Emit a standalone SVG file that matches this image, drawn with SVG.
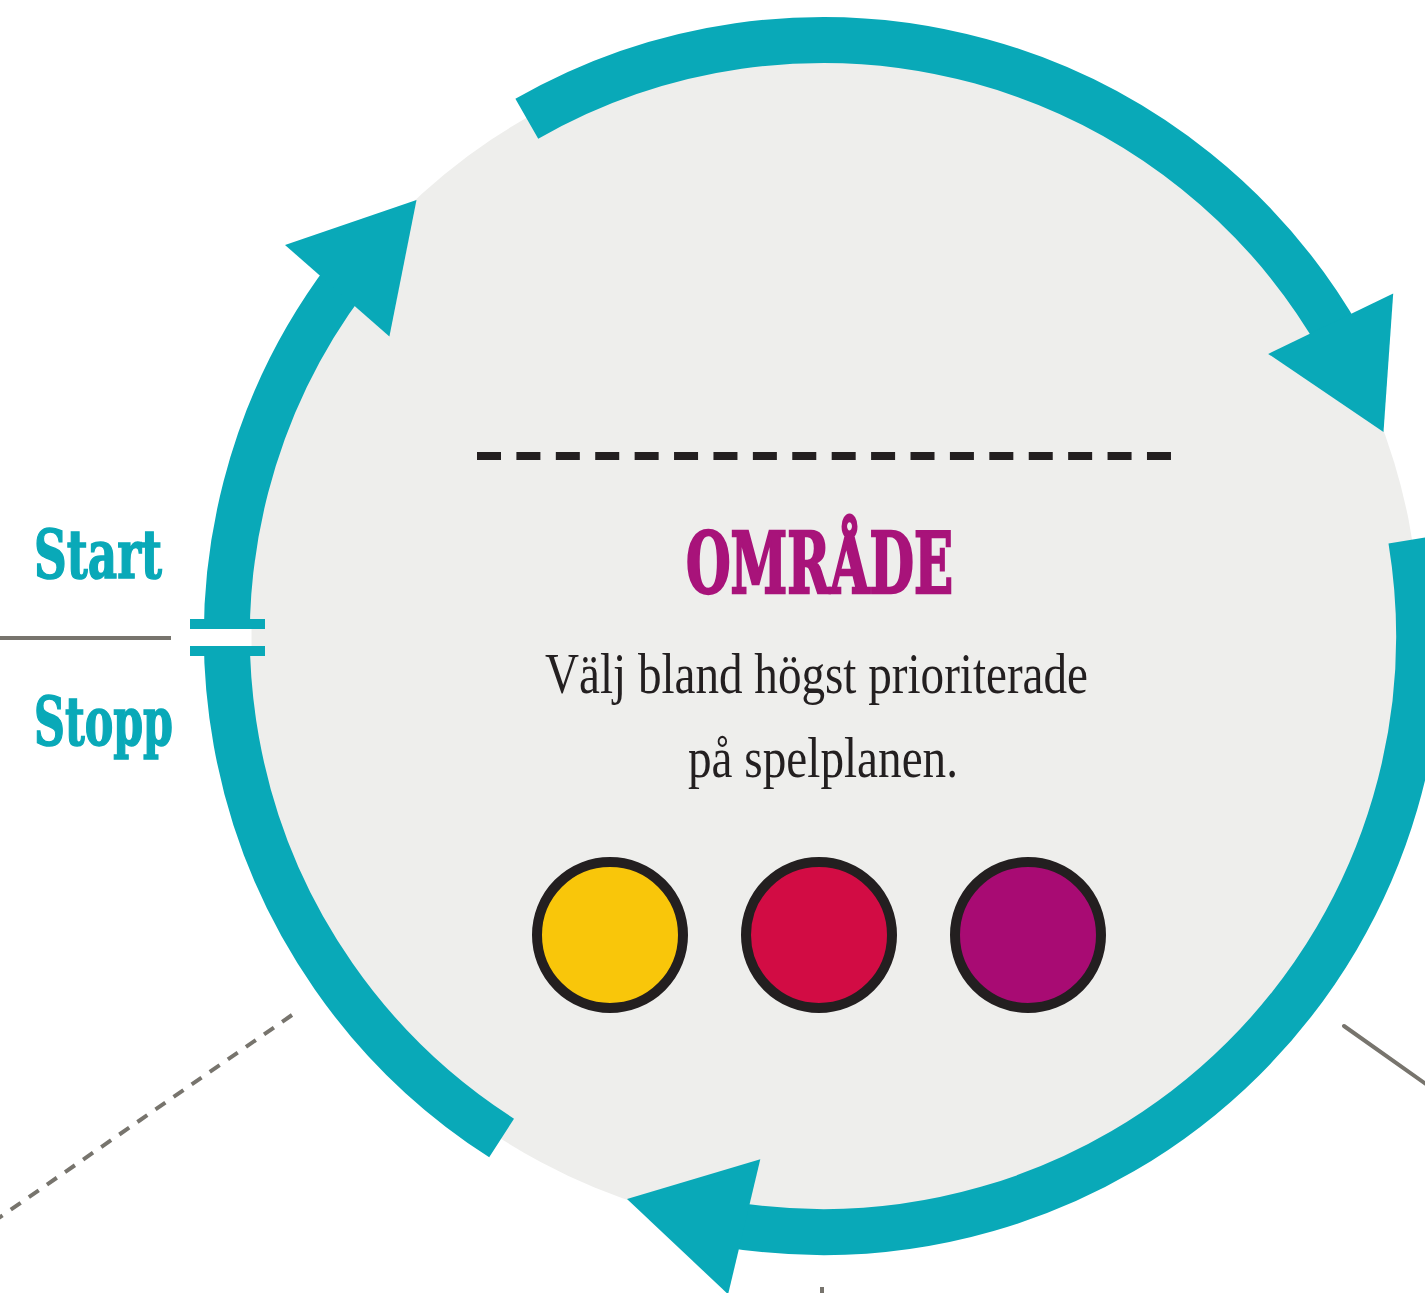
<svg xmlns="http://www.w3.org/2000/svg" width="1425" height="1293" viewBox="0 0 1425 1293">
  <style>
    .ring { fill: none; stroke: #09a9b8; stroke-width: 46; stroke-linecap: butt; }
    .head { fill: #09a9b8; }
    .guide { stroke: #77746d; stroke-width: 4; fill: none; }
    .dot { stroke: #231f20; stroke-width: 10; }
    .slab { font-family: "DejaVu Serif Condensed", "DejaVu Serif", serif; font-weight: bold; }
    .body { font-family: "Liberation Serif", serif; fill: #231f20; font-size: 58px; }
    .teal { fill: #09a9b8; }
    .tealtext { fill: #09a9b8; stroke: #09a9b8; stroke-width: 1.5; }
  </style>
  <rect width="1425" height="1293" fill="#ffffff"/>

  <g id="connectors">
    <line class="guide" x1="0" y1="638" x2="171" y2="638"/>
    <line class="guide" x1="292" y1="1015" x2="-10" y2="1224" stroke-dasharray="12 10"/>
    <line class="guide" x1="1344" y1="1026" x2="1440" y2="1094" stroke-linecap="round"/>
    <line class="guide" x1="822" y1="1287" x2="822" y2="1300"/>
  </g>

  <g id="main-circle">
    <circle cx="823" cy="636" r="597" fill="#eeeeec"/>
    <line x1="477" y1="456" x2="1171" y2="456" stroke="#231f20" stroke-width="8" stroke-dasharray="24 15.41"/>
    <text class="slab" x="686" y="593" font-size="85" fill="#a8137a" stroke="#a8137a" stroke-width="2.5" textLength="267" lengthAdjust="spacingAndGlyphs">OMRÅDE</text>
    <text class="body" x="545" y="693" textLength="543" lengthAdjust="spacingAndGlyphs">Välj bland högst prioriterade</text>
    <text class="body" x="688" y="777" textLength="270" lengthAdjust="spacingAndGlyphs">på spelplanen.</text>
  </g>

  <g id="cycle-arrows">
    <path class="ring" d="M 501.6 1138.0 A 596 596 0 0 1 347.0 277.3"/>
    <polygon class="head" points="416.5,200.1 285.0,245.0 389.4,336.4"/>
    <path class="ring" d="M 526.8 118.8 A 596 596 0 0 1 1341.2 341.6"/>
    <polygon class="head" points="1383.5,432.1 1268.2,353.9 1393.2,293.5"/>
    <path class="ring" d="M 1411.2 539.7 A 596 596 0 0 1 723.6 1223.7"/>
    <polygon class="head" points="627.0,1198.9 760.3,1159.3 728.1,1294.3"/>
  </g>

  <g id="start-stop-marker">
    <rect x="198" y="629" width="53.5" height="17" fill="#ffffff"/>
    <rect class="teal" x="190" y="619" width="75" height="10"/>
    <rect class="teal" x="190" y="646" width="75" height="10"/>
  </g>

  <g id="label-start">
    <text class="slab tealtext" x="34" y="578" font-size="68" textLength="128" lengthAdjust="spacingAndGlyphs">Start</text>
  </g>
  <g id="label-stopp">
    <text class="slab tealtext" x="34" y="745" font-size="68" textLength="139" lengthAdjust="spacingAndGlyphs">Stopp</text>
  </g>

  <g id="dot-yellow">
    <circle class="dot" cx="610" cy="935" r="73" fill="#f9c60a"/>
  </g>
  <g id="dot-red">
    <circle class="dot" cx="819" cy="935" r="73" fill="#d20c44"/>
  </g>
  <g id="dot-purple">
    <circle class="dot" cx="1028" cy="935" r="73" fill="#a80b73"/>
  </g>
</svg>
